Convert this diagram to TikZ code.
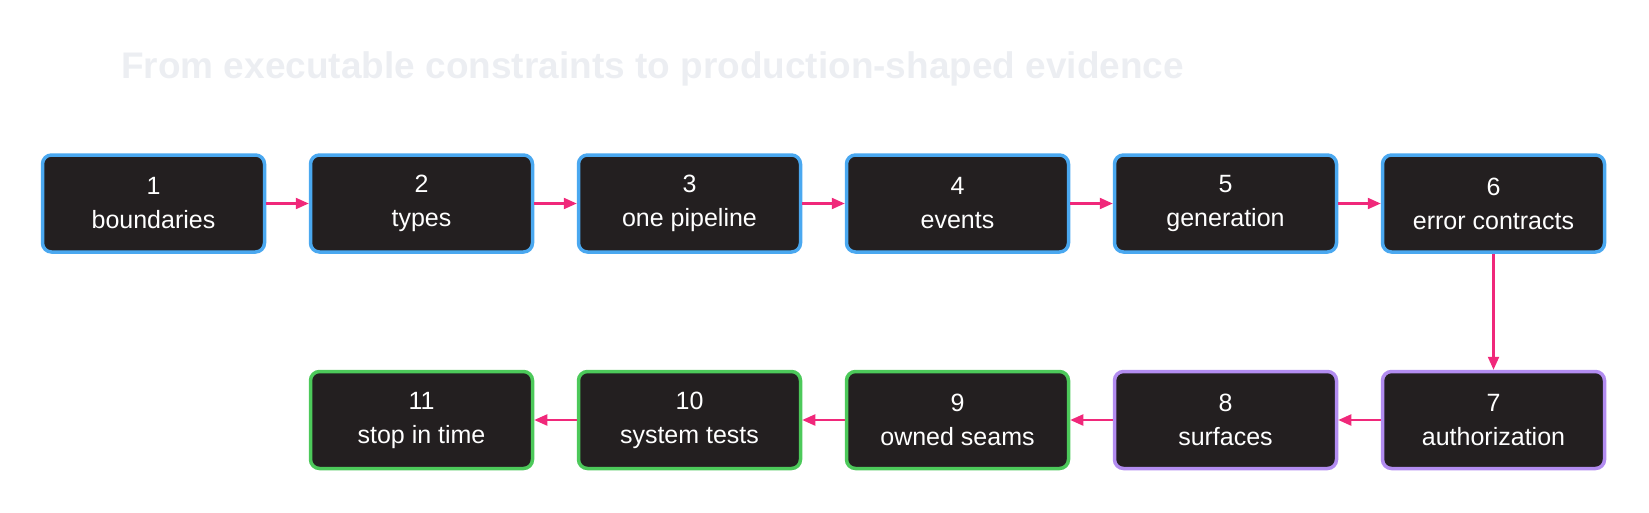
\documentclass[tikz,border=0pt]{standalone}
\usepackage{fontspec}
\setmainfont{Liberation Sans}
\usetikzlibrary{arrows.meta}
\definecolor{boxfill}{HTML}{231F20}
\definecolor{bblue}{HTML}{4AA8F0}
\definecolor{bpurple}{HTML}{B28CF0}
\definecolor{bgreen}{HTML}{4CC95A}
\definecolor{pink}{HTML}{F0287A}
\definecolor{ttl}{HTML}{ECEEF2}
\begin{document}
\begin{tikzpicture}[x=1pt,y=-1pt,
 box/.style={draw=#1,line width=3.5pt,fill=boxfill,rounded corners=9pt,minimum width=222pt,minimum height=97pt,text=white,align=center,font=\fontsize{25}{34}\selectfont,inner sep=0pt},
 arr/.style={draw=pink,line width=2.2pt,-{Triangle[length=13pt,width=11pt]}}]
\useasboundingbox (0,0) rectangle (1649,512);
\node[anchor=base west,text=ttl,font=\bfseries\fontsize{37}{40}\selectfont,inner sep=0pt] (title) at (121,78) {From executable constraints to production-shaped evidence};
\foreach \i/\x/\t in {1/153.5/boundaries,2/421.5/types,3/689.5/one pipeline,4/957.5/events,5/1225.5/generation,6/1493.5/error contracts}
  \node[box=bblue] (n\i) at (\x,203.5) {\i\\\t};
\node[box=bpurple] (n7) at (1493.5,420) {7\\authorization};
\node[box=bpurple] (n8) at (1225.5,420) {8\\surfaces};
\node[box=bgreen] (n9) at (957.5,420) {9\\owned seams};
\node[box=bgreen] (n10) at (689.5,420) {10\\system tests};
\node[box=bgreen] (n11) at (421.5,420) {11\\stop in time};
\foreach \a/\b in {1/2,2/3,3/4,4/5,5/6,6/7,7/8,8/9,9/10,10/11}
  \draw[arr] (n\a) -- (n\b);
\end{tikzpicture}
\end{document}
